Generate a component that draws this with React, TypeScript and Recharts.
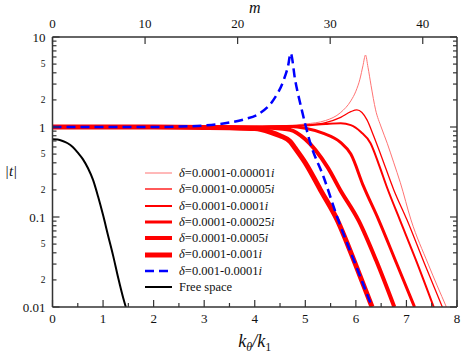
import React from "react";
import { LineChart, Line, XAxis, YAxis, Label } from "recharts";

// k_theta / k_1 samples and |t| values
const kA = [0, 1, 2, 3, 4, 4.5, 5, 5.4, 5.7, 5.9, 6.0, 6.08, 6.14, 6.19, 6.24, 6.3, 6.39, 6.5, 6.62, 6.75, 6.88, 7.09, 7.43, 7.79];
const tA = [1, 1, 1, 1, 1.01, 1.03, 1.08, 1.18, 1.45, 1.95, 2.5, 3.4, 4.8, 6.3, 4.6, 2.9, 1.55, 1.0, 0.66, 0.4, 0.24, 0.093, 0.03, 0.01];

const kB = [0, 1, 2, 3, 4, 4.5, 5, 5.4, 5.7, 5.9, 6.02, 6.12, 6.22, 6.35, 6.5, 6.75, 7.01, 7.35, 7.71];
const tB = [1, 1, 1, 1, 1.01, 1.02, 1.05, 1.12, 1.28, 1.48, 1.55, 1.45, 1.2, 0.8, 0.48, 0.2, 0.093, 0.031, 0.01];

const kC = [0, 1, 2, 3, 4, 4.5, 5, 5.4, 5.7, 5.9, 6.1, 6.29, 6.45, 6.62, 6.87, 7.2, 7.54];
const tC = [1, 1, 1, 1, 1, 1.01, 1.04, 1.08, 1.1, 1.05, 0.88, 0.66, 0.39, 0.21, 0.093, 0.032, 0.01];

const kD = [0, 1, 2, 3, 4, 4.7, 5.0, 5.36, 5.69, 5.9, 6.15, 6.45, 6.8, 7.16];
const tD = [1, 1, 1, 1, 1, 1.01, 0.97, 0.85, 0.68, 0.5, 0.22, 0.093, 0.031, 0.01];

const kE = [0, 1, 2, 3, 4, 4.3, 4.5, 4.7, 5.0, 5.2, 5.45, 5.69, 6.06, 6.4, 6.76];
const tE = [1, 1, 1, 1, 0.99, 0.98, 0.96, 0.93, 0.73, 0.555, 0.35, 0.2, 0.09, 0.033, 0.01];

const kF = [0, 1, 2, 3, 3.5, 4, 4.3, 4.5, 4.7, 4.8, 5.0, 5.3, 5.63, 6.0, 6.32];
const tF = [1, 1, 1, 0.99, 0.98, 0.96, 0.88, 0.8, 0.69, 0.58, 0.4, 0.2, 0.093, 0.029, 0.01];

const kG = [0, 1, 2, 2.5, 3, 3.5, 3.8, 4.1, 4.37, 4.57, 4.66, 4.71, 4.8, 4.93, 5.1, 5.36, 5.63, 6.0, 6.32];
const tG = [1, 1, 1, 1.01, 1.04, 1.12, 1.22, 1.42, 2.0, 3.3, 4.8, 6.6, 3.3, 1.55, 0.66, 0.28, 0.1, 0.029, 0.01];

const kFree = [0, 0.1, 0.2, 0.3, 0.4, 0.5, 0.6, 0.7, 0.8, 0.9, 1.0, 1.1, 1.2, 1.3, 1.4, 1.45];
const tFree = [0.73, 0.725, 0.7, 0.66, 0.6, 0.52, 0.44, 0.35, 0.26, 0.17, 0.105, 0.062, 0.037, 0.021, 0.0125, 0.01];

const seriesDelta = [
  "0.0001-0.00001",
  "0.0001-0.00005",
  "0.0001-0.0001",
  "0.0001-0.00025",
  "0.0001-0.0005",
  "0.0001-0.001",
  "0.001-0.0001",
];
const seriesK = [kA, kB, kC, kD, kE, kF, kG];
const seriesT = [tA, tB, tC, tD, tE, tF, tG];

const kTicks = [0, 0.5, 1, 1.5, 2, 2.5, 3, 3.5, 4, 4.5, 5, 5.5, 6, 6.5, 7, 7.5, 8];
const mTicks = [0, 10, 20, 30, 40];
const mMax = 43.7;
const yTicks = [
  0.01, 0.02, 0.03, 0.04, 0.05, 0.06, 0.07, 0.08, 0.09,
  0.1, 0.2, 0.3, 0.4, 0.5, 0.6, 0.7, 0.8, 0.9,
  1, 2, 3, 4, 5, 6, 7, 8, 9, 10,
];
const yMajor = [0.01, 0.1, 1, 10];
const yLabelText: Record<string, string> = {
  "0.01": "0.01", "0.02": "2", "0.05": "5",
  "0.1": "0.1", "0.2": "2", "0.5": "5",
  "1": "1", "2": "2", "5": "5", "10": "10",
};

// styles, kept apart from the values
const lineStyles = [
  { color: "#ff7373", width: 1 },
  { color: "#ff0000", width: 1.3 },
  { color: "#ff0000", width: 2 },
  { color: "#ff0000", width: 3 },
  { color: "#ff0000", width: 4 },
  { color: "#ff0000", width: 5 },
  { color: "#0000ff", width: 2.5, dash: "9 5" },
];

const FONT = "'Liberation Serif', 'DejaVu Serif', 'Times New Roman', serif";
const AXIS = "#333";
const INK = "#111";

const zip = (k: number[], t: number[]) => k.map((x, i) => ({ k: x, t: t[i] }));
// invisible helper so the top / right frame axes get a series of their own
const frameData = mTicks.map((m) => ({ m, r: 1 }));

const LeftTick = (p: any) => {
  const v = p.payload.value;
  const major = yMajor.includes(v);
  const label = yLabelText[String(v)];
  return (
    <g>
      <line x1={p.x} x2={p.x + (major ? 7 : 4)} y1={p.y} y2={p.y} stroke={AXIS} strokeWidth={1.2} />
      {label && (
        <text x={p.x - 7} y={p.y} dy="0.35em" textAnchor="end" style={{ fontFamily: FONT }}
          fontSize={major ? 13 : 9.5} fill={INK}>
          {label}
        </text>
      )}
    </g>
  );
};

const RightTick = (p: any) => {
  const major = yMajor.includes(p.payload.value);
  return <line x1={p.x} x2={p.x - (major ? 7 : 4)} y1={p.y} y2={p.y} stroke={AXIS} strokeWidth={1.2} />;
};

const BottomTick = (p: any) => {
  const v = p.payload.value;
  const major = Number.isInteger(v);
  return (
    <g>
      <line x1={p.x} x2={p.x} y1={p.y} y2={p.y - (major ? 7 : 4)} stroke={AXIS} strokeWidth={1.2} />
      {major && (
        <text x={p.x} y={p.y + 16} textAnchor="middle" style={{ fontFamily: FONT }} fontSize={13} fill={INK}>
          {v}
        </text>
      )}
    </g>
  );
};

const TopTick = (p: any) => (
  <g>
    <line x1={p.x} x2={p.x} y1={p.y} y2={p.y + 7} stroke={AXIS} strokeWidth={1.2} />
    <text x={p.x} y={p.y - 9} textAnchor="middle" style={{ fontFamily: FONT }} fontSize={13} fill={INK}>
      {p.payload.value}
    </text>
  </g>
);

const ROW = 16.3;

const LegendBox = () => (
  <div style={{ position: "absolute", left: 145, top: 165, fontFamily: FONT, fontSize: 12.5, color: INK, lineHeight: `${ROW}px` }}>
    {seriesDelta.map((d, i) => (
      <div key={d} style={{ display: "flex", alignItems: "center", height: ROW }}>
        <svg width={27} height={12} style={{ marginRight: 7, display: "block" }}>
          <line x1={0} x2={27} y1={6} y2={6} stroke={lineStyles[i].color}
            strokeWidth={lineStyles[i].width} strokeDasharray={lineStyles[i].dash} />
        </svg>
        <span><i>δ</i>={d}<i>i</i></span>
      </div>
    ))}
    <div style={{ display: "flex", alignItems: "center", height: ROW }}>
      <svg width={27} height={12} style={{ marginRight: 7, display: "block" }}>
        <line x1={0} x2={27} y1={6} y2={6} stroke="#000" strokeWidth={2} />
      </svg>
      <span>Free space</span>
    </div>
  </div>
);

export default function App() {
  return (
    <div style={{ position: "absolute", left: 0, top: 0, width: 463, height: 354, background: "#fff", fontFamily: FONT }}>
      <LineChart width={463} height={354} margin={{ top: 17, right: 5, bottom: 17, left: 7.5 }}>
        <XAxis xAxisId="k" dataKey="k" type="number" domain={[0, 8]} ticks={kTicks} interval={0}
          orientation="bottom" height={30} tickSize={0} tickMargin={0} tickLine={false}
          tick={(p: any) => <BottomTick {...p} />} stroke={AXIS} strokeWidth={1.5} allowDataOverflow>
          <Label content={(p: any) => {
            const vb = p.viewBox;
            return (
              <text x={vb.x + vb.width / 2} y={vb.y + 40} textAnchor="middle" style={{ fontFamily: FONT }}
                fontSize={18} fontStyle="italic" fill={INK}>
                k<tspan fontSize={12} dy={4}>θ</tspan>
                <tspan dy={-4}>/k</tspan>
                <tspan fontSize={12} dy={4} fontStyle="normal">1</tspan>
              </text>
            );
          }} />
        </XAxis>
        <XAxis xAxisId="m" dataKey="m" type="number" domain={[0, mMax]} ticks={mTicks} interval={0}
          orientation="top" height={20} tickSize={0} tickMargin={0} tickLine={false}
          tick={(p: any) => <TopTick {...p} />} stroke={AXIS} strokeWidth={1.5} allowDataOverflow>
          <Label content={(p: any) => {
            const vb = p.viewBox;
            return (
              <text x={vb.x + vb.width / 2} y={vb.y - 4} textAnchor="middle" style={{ fontFamily: FONT }}
                fontSize={16} fontStyle="italic" fill={INK}>
                m
              </text>
            );
          }} />
        </XAxis>
        <YAxis yAxisId="t" type="number" scale="log" domain={[0.01, 10]} ticks={yTicks} interval={0}
          width={45} tickSize={0} tickMargin={0} tickLine={false}
          tick={(p: any) => <LeftTick {...p} />} stroke={AXIS} strokeWidth={1.5} allowDataOverflow>
          <Label content={(p: any) => {
            const vb = p.viewBox;
            return (
              <text x={11} y={vb.y + vb.height / 2 + 4} textAnchor="middle" style={{ fontFamily: FONT }}
                fontSize={15} fontStyle="italic" fill={INK}>
                |t|
              </text>
            );
          }} />
        </YAxis>
        <YAxis yAxisId="r" dataKey="r" orientation="right" type="number" scale="log" domain={[0.01, 10]} ticks={yTicks}
          interval={0} width={1} tickSize={0} tickMargin={0} tickLine={false}
          tick={(p: any) => <RightTick {...p} />} stroke={AXIS} strokeWidth={1.5} allowDataOverflow />

        <Line xAxisId="m" yAxisId="r" data={frameData} dataKey="r" stroke="none" strokeWidth={0}
          dot={false} activeDot={false} legendType="none" isAnimationActive={false} />

        {seriesDelta.map((d, i) => (
          <Line key={d} xAxisId="k" yAxisId="t" data={zip(seriesK[i], seriesT[i])} dataKey="t"
            name={d} type="monotone" stroke={lineStyles[i].color} strokeWidth={lineStyles[i].width}
            strokeDasharray={lineStyles[i].dash} dot={false} activeDot={false} isAnimationActive={false} />
        ))}
        <Line xAxisId="k" yAxisId="t" data={zip(kFree, tFree)} dataKey="t" name="Free space"
          type="monotone" stroke="#000" strokeWidth={2} dot={false} activeDot={false} isAnimationActive={false} />
      </LineChart>
      <LegendBox />
    </div>
  );
}
